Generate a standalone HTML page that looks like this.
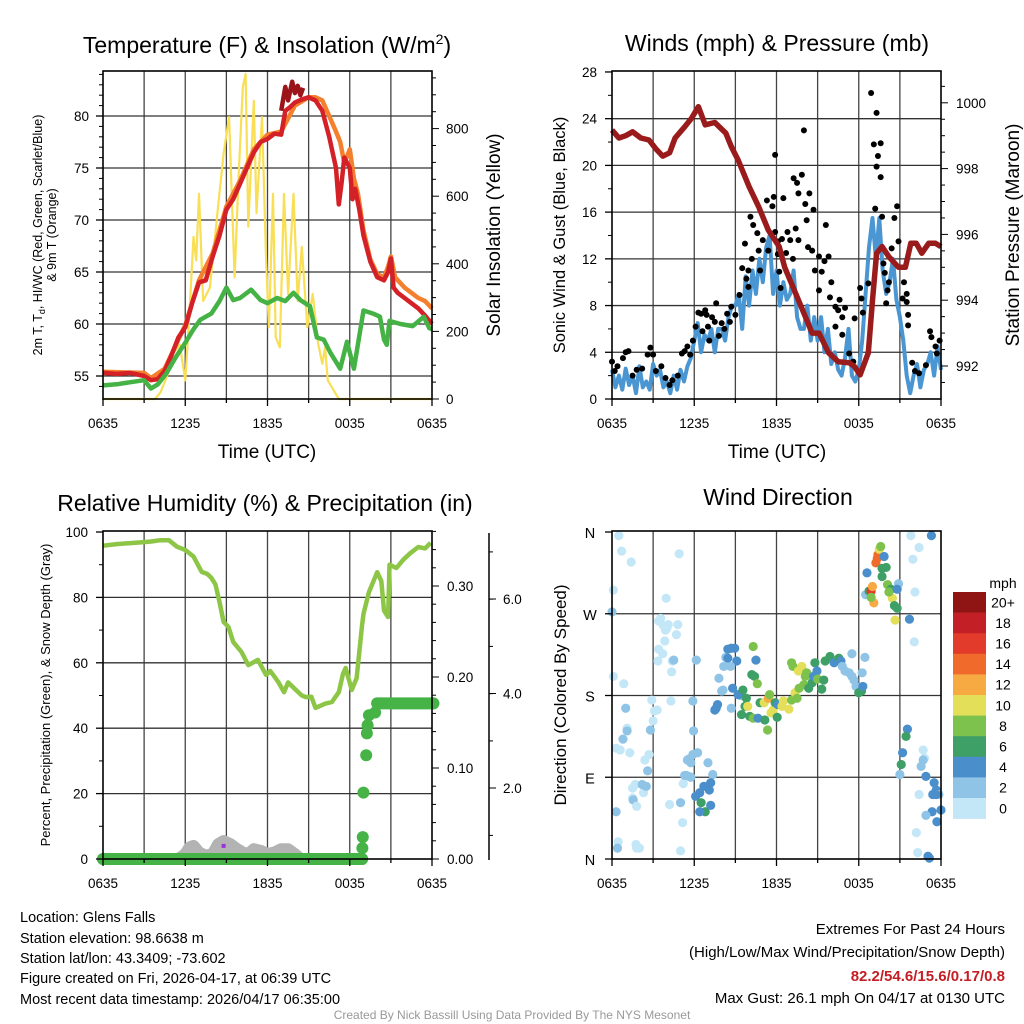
<!DOCTYPE html>
<html><head><meta charset="utf-8"><style>
html,body{margin:0;padding:0;background:#fff;}
svg{display:block;font-family:"Liberation Sans",Arial,sans-serif;}
</style></head><body>
<svg id="fig" width="1024" height="1024" viewBox="0 0 1024 1024" xmlns="http://www.w3.org/2000/svg">
<rect x="0" y="0" width="1024" height="1024" fill="#fff"/>
<g id="layer-grid"></g>
<g id="layer-data"></g>
<g id="layer-axes"></g>

<text x="267" y="53" font-size="23" text-anchor="middle">Temperature (F) &amp; Insolation (W/m<tspan dy="-9" font-size="14">2</tspan><tspan dy="9">)</tspan></text>
<text x="777" y="51" font-size="23" text-anchor="middle">Winds (mph) &amp; Pressure (mb)</text>
<text x="265" y="511" font-size="23" text-anchor="middle">Relative Humidity (%) &amp; Precipitation (in)</text>
<text x="778" y="505" font-size="23" text-anchor="middle">Wind Direction</text>

<text x="267" y="458" font-size="19" text-anchor="middle">Time (UTC)</text>
<text x="777" y="458" font-size="19" text-anchor="middle">Time (UTC)</text>

<text transform="translate(42,235) rotate(-90)" font-size="12.5" text-anchor="middle">2m T, T<tspan dy="3" font-size="9">d</tspan><tspan dy="-3">, HI/WC (Red, Green, Scarlet/Blue)</tspan></text>
<text transform="translate(56,235) rotate(-90)" font-size="12.5" text-anchor="middle">&amp; 9m T (Orange)</text>
<text transform="translate(500,235) rotate(-90)" font-size="19" text-anchor="middle">Solar Insolation (Yellow)</text>
<text transform="translate(565,235) rotate(-90)" font-size="16.5" text-anchor="middle">Sonic Wind &amp; Gust (Blue, Black)</text>
<text transform="translate(1019,235) rotate(-90)" font-size="19" text-anchor="middle">Station Pressure (Maroon)</text>
<text transform="translate(50,695) rotate(-90)" font-size="13" text-anchor="middle">Percent, Precipitation (Green), &amp; Snow Depth (Gray)</text>
<text transform="translate(566,695) rotate(-90)" font-size="17" text-anchor="middle">Direction (Colored By Speed)</text>

<text x="1003" y="588" font-size="14" text-anchor="middle">mph</text>

<g font-size="14.5">
<text x="20" y="922">Location: Glens Falls</text>
<text x="20" y="943">Station elevation: 98.6638 m</text>
<text x="20" y="963">Station lat/lon: 43.3409; -73.602</text>
<text x="20" y="983">Figure created on Fri, 2026-04-17, at 06:39 UTC</text>
<text x="20" y="1004">Most recent data timestamp: 2026/04/17 06:35:00</text>
</g>
<g font-size="15" text-anchor="end">
<text x="1005" y="934">Extremes For Past 24 Hours</text>
<text x="1005" y="957">(High/Low/Max Wind/Precipitation/Snow Depth)</text>
<text x="1005" y="981" font-weight="bold" fill="#c41e24">82.2/54.6/15.6/0.17/0.8</text>
<text x="1005" y="1003">Max Gust: 26.1 mph On 04/17 at 0130 UTC</text>
</g>
<text x="512" y="1019" font-size="12" fill="#999" text-anchor="middle">Created By Nick Bassill Using Data Provided By The NYS Mesonet</text>
</svg>
<script>
// ---------------- DATA ----------------
const xTickLabels = ["0635","1235","1835","0035","0635"];
const tempTicks = [55,60,65,70,75,80];
const solarTicks = [0,200,400,600,800];
const windTicks = [0,4,8,12,16,20,24,28];
const pressTicks = [992,994,996,998,1000];
const rhTicks = [0,20,40,60,80,100];
const precipTicks = [0,0.1,0.2,0.3];
const precipTickLabels = ["0.00","0.10","0.20","0.30"];
const snowTickLabels = ["2.0","4.0","6.0"];
const dirTickLabels = ["N","E","S","W","N"];
const speedBinLabels = ["0","2","4","6","8","10","12","14","16","18","20+"];
const speedColors = ["#c4e7f8","#8fc4e7","#4a8fcb","#3e9f67","#7dc24c","#e4df59","#f7a942","#f06b2b","#e23a2b","#c31f26","#8f1515"];

const tempT = [0,1,2,3,3.5,4,4.5,5,5.5,6,6.5,7,7.5,8,8.5,9,9.5,10,10.5,11,11.5,12,12.5,13,13.3,13.6,14,14.5,15,15.5,16,16.5,17,17.2,17.4,17.6,18,18.2,18.4,18.7,19,19.5,20,20.5,20.8,21,21.2,21.5,22,22.5,23,23.5,24];
const tempV = [55.3,55.2,55.3,55.0,54.6,54.7,55.5,57,58.7,59.7,62,64,64.2,66.5,68.5,71,72,73.5,75,76.5,77.5,77.8,78.3,78.2,80.5,80.8,81.3,81.6,81.8,81.5,80.5,78,75,71.5,73.5,76,75,72,73,71,68.5,66,64.5,64.2,65,66.3,63.5,63,62.5,62,61.5,60.8,60];
const t9T = [0,3,3.5,4.5,6,7,8,9,10,11,12,13,14,15,15.5,16,16.5,17,17.3,17.6,18,18.3,18.6,19,19.5,20,20.5,20.8,21,21.3,22,22.5,23,23.5,24];
const t9V = [55.4,55.3,54.8,55.7,59.9,64.2,66.8,71.3,73.8,76.8,78.2,78.5,81,81.8,81.8,81.5,80,78.5,77.5,75.5,76.8,74,72.5,69,66.2,64.8,64.5,65.5,66.5,64.5,63.5,63,62.5,62.2,61.5];
const hiT = [13.0,13.3,13.5,13.8,14.0,14.2,14.4,14.6];
const hiV = [80.5,82.8,81.5,83.3,82.2,82.9,82,82.7];
const dewT = [0,1,2,3,3.5,4,4.6,5.3,6,6.6,7.1,7.9,8.5,9,9.5,10,10.8,11.5,12,12.7,13.3,13.9,14.4,15.1,15.6,16.1,16.6,17.3,17.8,18.3,19,19.7,20.2,20.5,20.7,20.9,21.7,22.6,23.4,23.8,24];
const dewV = [54.1,54.2,54.4,54.6,53.8,54.2,55.2,56.8,58.2,59.5,60.4,61,62.2,63.5,62.3,62.5,63.3,62.3,62,62.5,62.2,63,62.3,61.7,58.7,58.5,57.2,55.7,58.3,55.7,61.3,61,60.7,58.5,58,60.3,60,59.8,60.7,59.6,59.5];
const solarT = [0,3.8,4.2,4.7,5.1,5.6,6.0,6.3,6.6,6.8,7.0,7.3,7.8,8.4,8.8,9.2,9.6,9.9,10.2,10.4,10.6,11.0,11.2,11.6,11.9,12.1,12.4,12.6,12.9,13.2,13.5,13.9,14.2,14.5,14.9,15.3,15.7,16.0,16.2,16.4,17.2,24];
const solarV = [0,0,20,70,134,160,55,250,480,410,607,290,330,570,726,834,360,665,922,962,510,882,550,834,410,212,607,183,153,607,311,607,290,450,212,311,163,104,153,55,0,0];

const presT = [0,0.5,1.0,1.5,2.1,2.7,3.2,3.7,4.2,4.6,5.3,5.8,6.3,6.8,7.5,8.3,8.7,9.2,10.0,10.7,11.4,12.2,12.6,13.4,14.1,14.6,15.1,15.8,16.5,17.3,17.7,18.1,18.7,19.0,19.3,19.7,20.2,20.9,21.4,21.8,22.2,22.6,23.1,23.6,24];
const presV = [999.17,998.93,999.0,999.12,998.93,998.87,998.6,998.38,998.48,998.93,999.27,999.53,999.88,999.33,999.4,999.08,998.67,998.26,997.45,996.84,996.13,995.63,995.0,994.2,993.5,993.0,993.0,992.4,992.13,992.1,991.98,991.73,992.4,994.0,995.43,995.63,995.32,995.0,995.0,995.73,995.73,995.43,995.73,995.73,995.63];
const windStep = 0.25;
const windV = [2.5,1,2,0.8, 2.6,1.2,2,0.5, 2.8,1,1.5,0.8, 3,2,2.5,1, 1.5,0.5,2,0.8, 2.5,1.5,2.8,3.5, 5,6.5,4,5.5, 5,6,4,6, 6,5,7,8, 8,9,6,10.5, 8,11,9,12, 10,13,14,9, 11,8,10,8.5, 9,11,7,6, 6,8,5,7, 5,7,4,6, 3,4,2.5,2, 3.5,6,2,1.5, 2.5,5,9,13, 15.5,12,15.5,11, 9,10,12,8.5, 7,5,2,0.5, 2,3,1,2.5, 3,4,2,4.5, 2.5];
const gustT = [0,0.2,0.4,0.8,1.0,1.2,1.5,1.8,2.2,2.6,2.8,3.0,3.2,3.6,3.9,4.2,4.4,4.8,5.1,5.3,5.5,5.7,5.9,6.1,6.3,6.5,6.6,6.8,6.9,7.0,7.1,7.3,7.5,7.6,7.8,8.0,8.2,8.4,8.6,8.7,9.0,9.3,9.5,9.7,9.8,9.95,9.95,10.1,10.2,10.3,10.6,10.7,10.8,11.0,11.3,11.4,11.7,11.8,11.9,11.9,12.1,12.1,12.2,12.3,12.4,12.5,12.7,12.8,13.0,13.2,13.25,13.4,13.5,13.6,13.6,13.85,14.0,14.1,14.2,14.3,14.4,14.6,14.7,14.8,15.1,15.1,15.3,15.5,15.6,15.8,15.9,16.0,16.3,16.3,16.5,16.6,16.8,16.8,17.0,17.3,17.6,17.7,18.1,18.2,18.3,18.7,18.9,19.1,19.2,19.3,19.3,19.4,19.6,19.6,19.7,19.8,19.9,20.0,20.1,20.2,20.4,20.6,20.8,20.9,21.2,21.3,21.5,21.5,21.6,21.6,21.9,22.1,22.4,22.9,23.2,23.3,23.6,23.7,23.9];
const gustV = [3.2,2.4,2.8,3.5,4.0,4.1,2.0,2.5,2.6,3.8,4.4,3.8,2.4,2.8,1.8,1.2,1.6,2.0,3.9,4.1,4.5,3.8,5.0,6.2,7.4,7.3,5.8,7.6,7.2,6.2,5.0,7.0,6.6,8.2,5.4,6.5,6.0,7.3,6.6,7.9,7.2,8.9,11.2,13.3,10.3,9.6,11.0,15.6,12.0,14.9,14.2,12.7,11.0,13.6,17.0,12.7,16.5,17.3,20.9,14.3,12.4,13.5,10.9,9.5,13.7,17.2,12.5,14.3,13.6,12.0,18.9,14.6,18.5,17.6,13.6,19.2,23.0,16.7,15.3,13.0,17.6,12.7,16.2,11.0,12.2,9.3,10.9,11.8,14.9,12.2,8.7,10.0,7.9,6.2,7.6,8.5,7.0,5.5,7.8,3.9,3.2,6.9,9.5,8.6,7.4,9.9,26.2,21.8,16.3,24.5,19.9,20.8,21.9,19.0,15.6,11.6,10.8,8.2,9.3,10.0,12.9,15.5,16.5,13.5,8.6,10.0,9.0,8.3,7.2,6.3,3.1,2.4,2.2,2.9,5.8,5.3,4.5,3.9,5.0];

const rhT = [0,1,2,3,3.5,4.2,4.8,5.4,6,6.6,7.2,7.6,7.9,8.2,8.5,8.8,9.15,9.5,10.1,10.6,11.3,11.9,12.2,12.5,12.8,13.2,13.5,14,14.5,14.8,15.2,15.5,16.2,16.7,17.2,17.5,17.7,18.15,18.5,18.9,19,19.4,20,20.3,20.5,20.8,20.9,21.4,21.9,22.4,23,23.5,23.9];
const rhV = [95.8,96.3,96.6,96.9,97.1,97.5,97.5,95.5,94.5,92.5,87.8,87.2,86,84,78.6,72.5,71,66.4,63.3,59.3,60.9,56.3,57.5,55.8,54,51,54,52,50,49.5,49.6,46.2,47.5,48,51,56.5,58.4,51.7,55.3,71.6,75,81.6,87.7,85,76,74,90,89,91.5,93.5,95.4,95,96.7];
const precipT = [0,18.9,18.92,18.95,19.0,19.2,19.25,19.3,19.4,19.85,20.0,24.1];
const precipV = [0,0,0.012,0.024,0.073,0.114,0.138,0.147,0.158,0.161,0.171,0.171];
const snowT = [5.5,6,6.3,6.6,7,7.5,8,8.4,8.8,9.3,9.8,10.2,10.6,11,11.5,12,12.5,13,13.5,14,14.4];
const snowV = [0,1.5,3.5,4,2,1,1.5,4.5,5.5,4.5,3,2,1.5,3,2.5,1.5,2,3,3,1.5,0];
const snowMarkT = [8.8];
const snowMarkV = [4];

const dirT = [0.5,0.7,1.4,0.1,0,0.1,0.86,0.3,0.45,0.4,1.75,1.8,2.0,1.5,1.5,1.7,1.55,1.8,2.3,2.2,2.5,2.4,2.7,2.6,1.1,1.1,0.8,1.3,0.6,0.3,1.0,2.9,3.1,3.3,3.0,2.8,3.95,3.55,3.4,3.75,4.0,4.1,3.9,4.8,4.7,3.85,3.4,3.7,3.35,4.4,4.5,4.35,4.3,4.9,5.9,6.15,5.95,4.2,5.15,5.2,5.0,5.0,5.3,5.4,5.6,5.75,5.5,5.9,6.25,5.6,5.75,
6.1,6.4,6.7,7.0,7.1,7.35,7.2,6.5,6.8,6.4,7.2,7.0,
7.5,7.6,7.7,7.8,8.0,8.1,8.8,9.2,9.4,8.7,8.15,8.3,8.45,8.7,8.95,8.45,9.1,8.65,10.5,9.25,9.55,9.8,9.7,9.45,10.05,10.3,9.9,10.2,10.4,10.6,10.3,10.65,11.15,11.35,10.8,11.1,11.4,11.5,11.6,11.75,12.05,11.9,12.1,12.4,12.5,12.9,13.1,13.35,13.5,13.1,13.2,13.6,13.85,14.1,14.2,13.65,14.0,14.35,14.6,14.8,14.95,14.7,15.0,15.3,15.45,15.55,15.9,16.2,16.55,16.7,16.8,17.0,17.3,17.5,17.65,17.8,18.0,18.2,17.5,18.3,18.25,18.45,
18.5,18.6,18.75,18.9,19.0,19.1,18.9,19.25,19.35,19.4,19.5,19.6,19.85,19.7,20.0,19.7,20.1,20.35,20.45,20.2,20.6,20.8,20.65,20.9,20.8,21.7,22.05,22.1,21.8,21.95,22.4,23.3,
21.55,21.45,21.2,21.1,21.0,22.7,22.8,22.55,22.7,22.9,23.5,23.65,23.4,23.85,23.65,22.4,23.35,22.9,23.7,24.0,22.2,22.3,23.05,23.15];
const dirD = [356,339,327,296,272,201,193,52,19,12,16,12,12,67,78,82,65,58,73,82,80,109,115,97,144,141,132,117,120,122,166,175,163,164,152,142,287,265,262,257,254,258,252,258,247,240,231,226,218,218,219,206,174,336,174,219,141,60,40,83,9,62,92,92,91,90,109,115,117,110,106,
69,73,80,80,76,93,84,62,52,52,59,106,
164,166,170,199,185,186,188,181,180,166,212,222,231,232,232,221,218,212,219,181,186,177,168,159,157,155,168,203,201,193,234,155,153,142,172,172,177,181,161,164,156,172,170,168,174,165,175,183,177,216,212,207,212,201,205,188,192,188,194,216,207,201,198,187,197,218,223,216,221,218,212,207,205,201,197,190,183,185,226,190,205,222,
291,315,295,295,300,282,288,326,331,335,341,344,333,320,321,311,302,297,287,294,279,276,263,303,297,264,239,294,356,330,343,356,
143,135,117,104,93,120,111,102,109,91,84,76,71,71,71,71,52,48,41,54,29,7,3,1];
const dirS = [1,1,1,1,3,1,1,3,1,3,1,1,1,1,1,1,3,1,1,3,3,1,1,3,1,3,3,1,1,1,3,1,1,1,1,3,1,1,1,1,1,1,1,1,1,1,1,1,1,1,3,1,1,1,3,3,3,1,1,1,1,3,3,3,3,3,3,3,3,3,3,
5,5,5,5,5,3,5,7,7,5,5,3,
5,5,5,3,3,3,5,5,3,3,3,3,5,5,5,5,5,3,5,5,7,7,7,7,7,9,11,7,7,9,9,5,7,9,7,11,13,9,11,11,7,7,5,11,11,11,9,11,9,9,9,11,11,9,9,9,9,7,7,7,5,5,9,7,7,7,7,5,7,5,3,3,3,3,3,3,7,7,3,5,3,3,
3,5,7,17,13,13,9,15,15,15,11,9,5,7,7,7,9,7,11,9,7,7,11,3,5,5,1,1,1,1,1,5,
5,7,5,7,3,1,1,3,3,5,5,5,5,3,5,1,5,3,5,5,1,1,5,5];

// ---------------- GEOMETRY ----------------
const NS = "http://www.w3.org/2000/svg";
const gGrid = document.getElementById('layer-grid');
const gData = document.getElementById('layer-data');
const gAxes = document.getElementById('layer-axes');
function mk(tag, parent, attrs){ const e=document.createElementNS(NS,tag); for(const k in attrs) e.setAttribute(k,attrs[k]); parent.appendChild(e); return e; }

const PW = 329;
const L1 = 103, L2 = 612;
const T1 = 71, B1 = 399, T3 = 531, B3 = 859;
function xA(t){ return L1 + t*PW/24; }
function xB(t){ return L2 + t*PW/24; }
function yTemp(v){ return 376 - (v-55)*10.4; }
function ySolar(w){ return 399 - w*0.338; }
function yWind(g){ return 399 - g*11.68; }
function yPres(p){ return 366 - (p-992)*32.9; }
function yRH(v){ return 859 - v*3.27; }
function yPrecip(p){ return 859 - p*910; }
function yDir(d){ return 859 - d*327/360; }

function pathFrom(ts, vs, fx, fy){ let d=""; for(let i=0;i<ts.length;i++){ d += (i?"L":"M")+fx(ts[i]).toFixed(1)+","+fy(vs[i]).toFixed(1); } return d; }

// grids
function panelGrid(L, T, B, ys, nameP){
  for(let h=3; h<24; h+=3){
    const e = mk('line', gGrid, {x1:L+h*PW/24, x2:L+h*PW/24, y1:T, y2:B, stroke:"#444", "stroke-width":1.3});
    
    
  }
  ys.forEach(y=>{
    const e = mk('line', gGrid, {x1:L, x2:L+PW, y1:y, y2:y, stroke:"#333", "stroke-width":1.3});
    
    
  });
}
panelGrid(L1, T1, B1, tempTicks.map(yTemp), 'temp');
panelGrid(L2, T1, B1, windTicks.filter(v=>v>0&&v<28).map(yWind), 'wind');
panelGrid(L1, T3, B3, rhTicks.filter(v=>v>0&&v<100).map(yRH), 'rh');
panelGrid(L2, T3, B3, [90,180,270].map(yDir), 'dir');

// ---------- panel 1 ----------
{
  const s = mk('path', gData, {d:pathFrom(solarT, solarV, xA, ySolar), fill:"none", stroke:"#f8df55", "stroke-width":2.2, "stroke-linejoin":"round"});
  
  
  const o = mk('path', gData, {d:pathFrom(t9T, t9V, xA, yTemp), fill:"none", stroke:"#f47f2c", "stroke-width":4.5, "stroke-linejoin":"round"});
  
  
  const r = mk('path', gData, {d:pathFrom(tempT, tempV, xA, yTemp), fill:"none", stroke:"#d42027", "stroke-width":4.5, "stroke-linejoin":"round"});
  
  
  const hi = mk('path', gData, {d:pathFrom(hiT, hiV, xA, yTemp), fill:"none", stroke:"#9b1419", "stroke-width":4.5, "stroke-linejoin":"round"});
  
  
  const g = mk('path', gData, {d:pathFrom(dewT, dewV, xA, yTemp), fill:"none", stroke:"#44b244", "stroke-width":4.5, "stroke-linejoin":"round"});
  
  
}
// ---------- panel 2 ----------
{
  const wt = windV.map((v,i)=>i*windStep);
  const w = mk('path', gData, {d:pathFrom(wt, windV, xB, yWind), fill:"none", stroke:"#4a96d2", "stroke-width":4, "stroke-linejoin":"round"});
  
  
  for(let i=0;i<gustT.length;i++){
    const c = mk('circle', gData, {cx:xB(gustT[i]), cy:yWind(gustV[i]), r:3, fill:"#000"});
    
    
  }
  const p = mk('path', gData, {d:pathFrom(presT, presV, xB, yPres), fill:"none", stroke:"#9a1b1b", "stroke-width":5.5, "stroke-linejoin":"round"});
  
  
}
// ---------- panel 3 ----------
{
  const sn = mk('path', gData, {d:pathFrom(snowT, snowV, xA, yRH), fill:"#b3b3b3", stroke:"#b3b3b3", "stroke-width":12, "stroke-linejoin":"round", "stroke-linecap":"round"});
  
  
  const rh = mk('path', gData, {d:pathFrom(rhT, rhV, xA, yRH), fill:"none", stroke:"#8dc646", "stroke-width":4.5, "stroke-linejoin":"round"});
  
  
  for(let i=0;i<precipT.length-1;i++){
    if(precipV[i]===precipV[i+1]){
      const ln = mk('line', gData, {x1:xA(precipT[i]), x2:xA(precipT[i+1]), y1:yPrecip(precipV[i]), y2:yPrecip(precipV[i+1]), stroke:"#46b347", "stroke-width":12, "stroke-linecap":"round"});
      
      
    }
  }
  for(let i=0;i<precipT.length;i++){
    const c = mk('circle', gData, {cx:xA(precipT[i]), cy:yPrecip(precipV[i]), r:6, fill:"#46b347"});
    
    
  }
  const pm = mk('rect', gData, {x:xA(snowMarkT[0])-2, y:yRH(snowMarkV[0])-2, width:4, height:4, fill:"#9b30e0"});
  
  
}
// ---------- panel 4 ----------
{
  for(let i=0;i<dirT.length;i++){
    const bin = Math.min(10, Math.floor(dirS[i]/2));
    const c = mk('circle', gData, {cx:xB(dirT[i]), cy:yDir(dirD[i]), r:4.6, fill:speedColors[bin]});
    
    
  }
  const cbTop = 592, cbH = 20.6;
  for(let i=0;i<speedColors.length;i++){
    const k = speedColors.length-1-i;
    const r = mk('rect', gAxes, {x:953, y:cbTop+i*cbH, width:33, height:cbH+0.3, fill:speedColors[k]});
    
    
    const t = mk('text', gAxes, {x:1003, y:cbTop+i*cbH+cbH/2+5, "font-size":14, "text-anchor":"middle"});
    t.textContent = speedBinLabels[k];
    
    
  }
}

// ---------- axes ----------
function frame(L, T, B, name){
  const r = mk('rect', gAxes, {x:L, y:T, width:PW, height:B-T, fill:"none", stroke:"#000", "stroke-width":1.6});
  
  
}
function tick(x1,y1,x2,y2,name,w){
  const e = mk('line', gAxes, {x1:x1,y1:y1,x2:x2,y2:y2, stroke:"#000", "stroke-width":w||1.3});
  
  
}
function label(x,y,txt,anchor,name,size){
  const e = mk('text', gAxes, {x:x, y:y, "font-size":size||13.5, "text-anchor":anchor});
  e.textContent = txt;
  
  
}
function xAxis(L, B, name){
  for(let h=0; h<=24; h+=3){ tick(L+h*PW/24, B, L+h*PW/24, B+(h%6===0?7:4), name+'-x-tick'); }
  xTickLabels.forEach((s,i)=> label(L+i*6*PW/24, B+29, s, "middle", name+'-x-tick-label'));
}
frame(L1,T1,B1,'temp'); frame(L2,T1,B1,'wind'); frame(L1,T3,B3,'rh'); frame(L2,T3,B3,'dir');
xAxis(L1,B1,'temp'); xAxis(L2,B1,'wind'); xAxis(L1,B3,'rh'); xAxis(L2,B3,'dir');

// panel1 left
tempTicks.forEach(v=>{ tick(L1-7,yTemp(v),L1,yTemp(v),'temp-y-tick'); label(L1-14,yTemp(v)+5,String(v),"end",'temp-y-tick-label'); });
for(let v=54; v<=84; v+=1){ if(v%5) { const y=yTemp(v); if(y>T1&&y<B1) tick(L1-4,y,L1,y,'temp-y-minor-tick',1); } }
// panel1 right
for(let w=0; w<=950; w+=50){ const y=ySolar(w); tick(L1+PW,y,L1+PW+(w%200===0?7:4),y,'solar-y-tick',1); }
solarTicks.forEach(w=> label(L1+PW+14, ySolar(w)+5, String(w), "start", 'solar-y-tick-label'));
// panel2 left
windTicks.forEach(v=>{ tick(L2-7,yWind(v),L2,yWind(v),'wind-y-tick'); label(L2-15,yWind(v)+5,String(v),"end",'wind-y-tick-label'); });
for(let v=2; v<28; v+=4) tick(L2-4,yWind(v),L2,yWind(v),'wind-y-minor-tick',1);
// panel2 right
for(let p=991.5; p<=1001; p+=0.5){ const y=yPres(p); if(y>T1&&y<=B1) tick(L2+PW,y,L2+PW+(p%2===0?7:4),y,'pressure-y-tick',1); }
pressTicks.forEach(p=> label(L2+PW+15, yPres(p)+5, String(p), "start", 'pressure-y-tick-label'));
// panel3 left
rhTicks.forEach(v=>{ tick(L1-7,yRH(v),L1,yRH(v),'rh-y-tick'); label(L1-15,yRH(v)+5,String(v),"end",'rh-y-tick-label'); });
for(let v=10; v<100; v+=20) tick(L1-4,yRH(v),L1,yRH(v),'rh-y-minor-tick',1);
// panel3 right precip
for(let k=0; k<=18; k++){ const p=k*0.02; const y=yPrecip(p); if(y>=T3) tick(L1+PW,y,L1+PW+(k%5===0?7:4),y,'precip-y-tick',1); }
precipTicks.forEach((p,i)=> label(L1+PW+15, yPrecip(p)+5, precipTickLabels[i], "start", 'precip-y-tick-label'));
// snow axis
tick(489, T3+2, 489, B3+1, 'snow-axis-line', 1.5);
snowTickLabels.forEach((s,i)=>{ const y = 788 - i*94.5; tick(489,y,496,y,'snow-y-tick',1); label(503,y+5,s,"start",'snow-y-tick-label'); });
for(let k=-1;k<=6;k++){ const y = 835.4 - k*47.25 + 0; if(y>T3&&y<B3 && Math.abs(((y-788)/94.5)%1)>0.1) tick(489,y,493,y,'snow-y-minor-tick',1); }
// panel4 left
dirTickLabels.forEach((s,i)=>{ const y=yDir(i*90); tick(L2-7,y,L2,y,'dir-y-tick'); label(L2-22,y+6,s,"middle",'dir-y-tick-label',14.5); });
</script>
</body></html>
